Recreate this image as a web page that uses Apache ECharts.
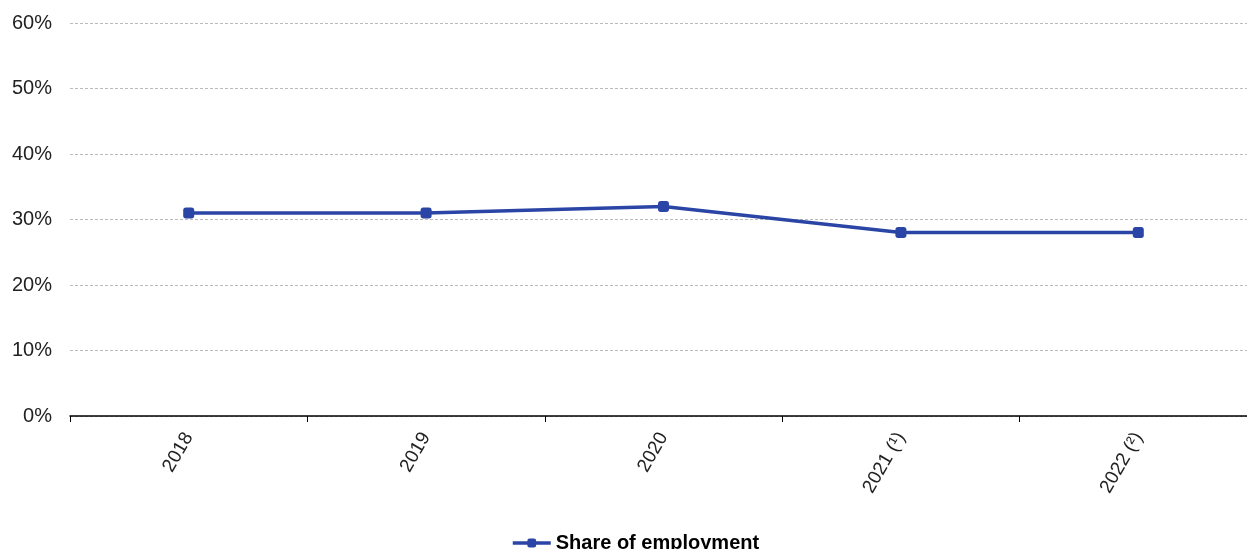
<!DOCTYPE html>
<html><head><meta charset="utf-8">
<script src="https://cdn.jsdelivr.net/npm/echarts@6/dist/echarts.min.js"></script>
<style>html,body{margin:0;padding:0;background:#fff;overflow:hidden;width:1247px;height:549px}#c{width:1257px;height:549px}</style>
</head><body><div id="c"></div>
<script>
const categories = ['2018', '2019', '2020', '2021 (¹)', '2022 (²)'];
const shareOfEmployment = [31, 31, 32, 28, 28];
const yTicks = [0, 10, 20, 30, 40, 50, 60];

const chart = echarts.init(document.getElementById('c'));
chart.setOption({
  animation: false,
  grid: { left: 70, right: 0, top: 23, height: 393, containLabel: false },
  legend: {
    top: 528, left: 506,
    itemWidth: 38, itemHeight: 11, itemGap: 3,
    lineStyle: { width: 3.5 },
    textStyle: { fontFamily: 'Liberation Sans, Arial', fontSize: 20, fontWeight: 'bold', color: '#000' },
    data: ['Share of employment']
  },
  xAxis: {
    type: 'category', data: categories, boundaryGap: true,
    axisLine: { lineStyle: { color: '#000', width: 1.5 } },
    axisTick: { show: true, length: 6, lineStyle: { color: '#000' } },
    axisLabel: { rotate: 60, margin: 18, fontFamily: 'Liberation Sans, Arial', fontSize: 19, color: '#222' }
  },
  yAxis: {
    type: 'value', min: yTicks[0], max: yTicks[yTicks.length - 1], interval: 10,
    axisLine: { show: false }, axisTick: { show: false },
    axisLabel: { formatter: '{value}%', margin: 18, fontFamily: 'Liberation Sans, Arial', fontSize: 20, color: '#222' },
    splitLine: { lineStyle: { color: '#bbb', type: [3, 2], width: 1 } }
  },
  series: [{
    name: 'Share of employment', type: 'line', data: shareOfEmployment,
    symbol: 'roundRect', symbolSize: 11,
    lineStyle: { color: '#2a45a6', width: 3.5 },
    itemStyle: { color: '#2a45a6' }
  }]
});
</script></body></html>
